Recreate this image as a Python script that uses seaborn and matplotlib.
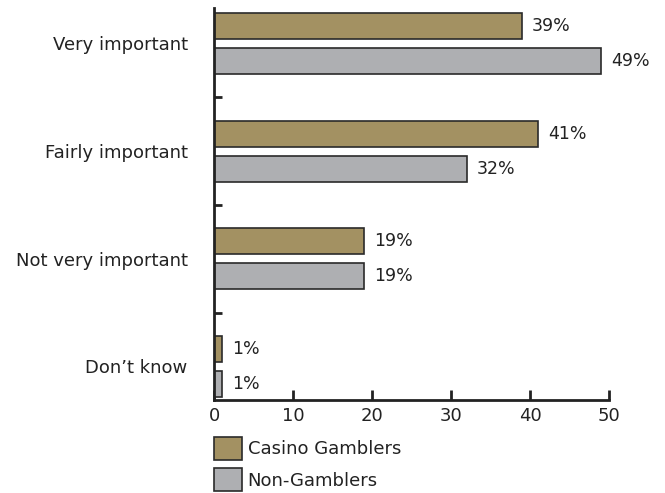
import matplotlib
matplotlib.use("Agg")
import matplotlib.pyplot as plt
from matplotlib.patches import Patch
import pandas as pd
import seaborn as sns

# data
categories = ["Very important", "Fairly important", "Not very important", "Don\u2019t know"]
casino_gamblers = [39, 41, 19, 1]
non_gamblers = [49, 32, 19, 1]
groups = ["Casino Gamblers", "Non-Gamblers"]
colors = ["#A39162", "#AEAFB2"]

df = pd.DataFrame({
    "answer": categories * 2,
    "pct": casino_gamblers + non_gamblers,
    "group": [groups[0]] * len(categories) + [groups[1]] * len(categories),
})

sns.set_style("white")
plt.rcParams["font.family"] = ["DejaVu Sans"]
plt.rcParams["font.size"] = 13

fig = plt.figure(figsize=(6.65, 4.93), dpi=100)
ax = fig.add_axes([0.322, 0.189, 0.594, 0.795])

sns.barplot(data=df, y="answer", x="pct", hue="group", order=categories,
            hue_order=groups, palette=colors, orient="h", width=0.65, gap=0.26,
            edgecolor="#2a2a2a", linewidth=1.2, saturation=1, legend=False, ax=ax)

for cont in ax.containers:
    ax.bar_label(cont, fmt="{:.0f}%", padding=7, fontsize=12.5, color="#222222")

ax.set_xlim(0, 50)
ax.set_ylim(3.31, -0.33)
ax.set_xticks(range(0, 51, 10))
ax.set_xlabel("")
ax.set_ylabel("")

for side in ["top", "right"]:
    ax.spines[side].set_visible(False)
for side in ["left", "bottom"]:
    ax.spines[side].set_linewidth(2)
    ax.spines[side].set_color("#222222")

ax.tick_params(axis="x", direction="in", length=7, width=2, color="#222222",
               labelsize=13, pad=5, bottom=True, labelcolor="#222222")
ax.tick_params(axis="y", which="major", length=0, pad=19, labelsize=13,
               labelcolor="#222222")
ax.set_yticks([0.5, 1.5, 2.5], minor=True)
ax.tick_params(axis="y", which="minor", direction="in", length=6, width=2,
               color="#222222", left=True)

handles = [Patch(facecolor=c, edgecolor="#2a2a2a", linewidth=1.2) for c in colors]
fig.legend(handles, groups, loc="upper left", bbox_to_anchor=(0.322, 0.114),
           frameon=False, fontsize=13, handlelength=1.55, handleheight=1.6,
           handletextpad=0.3, labelspacing=0.45, borderaxespad=0, borderpad=0,
           labelcolor="#222222")

fig.savefig("out.png", dpi=100)
